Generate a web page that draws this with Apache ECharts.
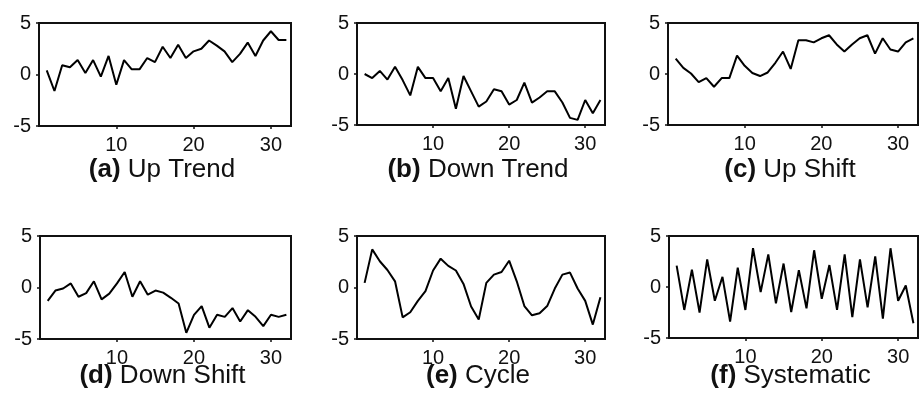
<!DOCTYPE html>
<html>
<head>
<meta charset="utf-8">
<script src="https://cdn.jsdelivr.net/npm/echarts@6/dist/echarts.min.js"></script>
<style>
  html, body { margin: 0; padding: 0; background: #fff; }
  #chart { width: 920px; height: 408px; }
</style>
</head>
<body>
<div id="chart"></div>
<script>
// readings for points 1..32 of each pattern
const upTrend = [0.4, -1.6, 0.9, 0.7, 1.4, 0.15, 1.4, -0.2, 1.8, -1.0, 1.4, 0.5, 0.5, 1.6, 1.2, 2.7,
  1.6, 2.9, 1.6, 2.25, 2.5, 3.3, 2.8, 2.25, 1.2, 2.0, 3.1, 1.8, 3.3, 4.2, 3.35, 3.35]
const downTrend = [0.0, -0.4, 0.3, -0.55, 0.7, -0.6, -2.1, 0.7, -0.4, -0.4, -1.7, -0.4, -3.4, -0.2, -1.7, -3.2,
  -2.7, -1.5, -1.7, -3.0, -2.55, -0.85, -2.8, -2.3, -1.7, -1.7, -2.8, -4.3, -4.5, -2.55, -3.85, -2.55]
const upShift = [1.5, 0.6, 0.05, -0.8, -0.4, -1.25, -0.4, -0.4, 1.8, 0.8, 0.1, -0.2, 0.15, 1.1, 2.2, 0.5,
  3.3, 3.3, 3.1, 3.5, 3.8, 2.9, 2.2, 2.9, 3.5, 3.8, 2.0, 3.5, 2.4, 2.2, 3.1, 3.5]
const downShift = [-1.3, -0.3, -0.1, 0.4, -0.9, -0.55, 0.6, -1.15, -0.6, 0.4, 1.5, -0.9, 0.6, -0.7, -0.3, -0.5,
  -1.0, -1.55, -4.4, -2.65, -1.8, -3.9, -2.65, -2.85, -2.0, -3.3, -2.2, -2.85, -3.75, -2.65, -2.85, -2.65]
const cycle = [0.45, 3.7, 2.55, 1.7, 0.6, -2.9, -2.4, -1.3, -0.35, 1.65, 2.8, 2.1, 1.65, 0.35, -1.85, -3.1,
  0.45, 1.25, 1.5, 2.6, 0.6, -1.8, -2.7, -2.5, -1.8, -0.1, 1.25, 1.45, -0.1, -1.3, -3.6, -0.95]
const systematic = [2.1, -2.25, 1.7, -2.5, 2.7, -1.35, 1.0, -3.4, 1.9, -2.25, 3.8, -0.5, 3.2, -1.6, 2.3, -2.45,
  1.65, -2.1, 3.6, -1.15, 2.15, -2.25, 3.2, -2.95, 2.7, -2.0, 3.0, -3.1, 3.8, -1.35, 0.15, -3.55]

const xTicks = [10, 20, 30]
const yTicks = [-5, 0, 5]

const panelLetters = ['(a)', '(b)', '(c)', '(d)', '(e)', '(f)']
const panelNames = ['Up Trend', 'Down Trend', 'Up Shift', 'Down Shift', 'Cycle', 'Systematic']
const panelData = [upTrend, downTrend, upShift, downShift, cycle, systematic]

const boxes = [
  { left: 39, top: 23, width: 252, height: 103 },
  { left: 357, top: 23, width: 248, height: 102 },
  { left: 668, top: 23, width: 250, height: 102 },
  { left: 40, top: 236, width: 251, height: 103 },
  { left: 357, top: 236, width: 248, height: 103 },
  { left: 669, top: 236, width: 249, height: 102 },
]
const titleY = [170, 170, 170, 376, 376, 376]

const font = 'Liberation Sans'
const ink = '#111'

const chart = echarts.init(document.getElementById('chart'), null, { renderer: 'canvas' })

const grid = boxes.map(b => ({
  left: b.left,
  top: b.top,
  width: b.width,
  height: b.height,
  show: true,
  borderColor: ink,
  borderWidth: 2,
  containLabel: false,
}))

const xAxis = boxes.map((b, i) => ({
  type: 'value',
  gridIndex: i,
  min: 0,
  max: 32.6,
  splitLine: { show: false },
  axisLine: { show: true, onZero: false, lineStyle: { color: ink, width: 2 } },
  axisTick: { show: true, customValues: xTicks, length: 3, lineStyle: { color: ink, width: 1.5 } },
  axisLabel: { customValues: xTicks, margin: 9, fontSize: 20, fontFamily: font, color: ink },
}))

const yAxis = boxes.map((b, i) => ({
  type: 'value',
  gridIndex: i,
  min: -5,
  max: 5,
  splitLine: { show: false },
  axisLine: { show: true, lineStyle: { color: ink, width: 2 } },
  axisTick: { show: true, customValues: yTicks, length: 3, lineStyle: { color: ink, width: 1.5 } },
  axisLabel: { customValues: yTicks, margin: 8, fontSize: 20, fontFamily: font, color: ink },
}))

const series = panelData.map((vals, i) => ({
  type: 'line',
  xAxisIndex: i,
  yAxisIndex: i,
  data: vals.map((v, k) => [k + 1, v]),
  showSymbol: false,
  symbol: 'none',
  lineStyle: { color: '#000', width: 2 },
  silent: true,
}))

// captions under each panel: bold letter + plain name
const graphic = boxes.map((b, i) => ({
  type: 'text',
  x: b.left + b.width / 2 - 3,
  y: titleY[i],
  style: {
    text: '{b|' + panelLetters[i] + '} ' + panelNames[i],
    fontSize: 26,
    fontFamily: font,
    fill: ink,
    textAlign: 'center',
    textVerticalAlign: 'middle',
    rich: {
      b: { fontSize: 26, fontFamily: font, fontWeight: 'bold', fill: ink },
    },
  },
}))

chart.setOption({
  animation: false,
  backgroundColor: '#fff',
  grid,
  xAxis,
  yAxis,
  series,
  graphic,
})
</script>
</body>
</html>
